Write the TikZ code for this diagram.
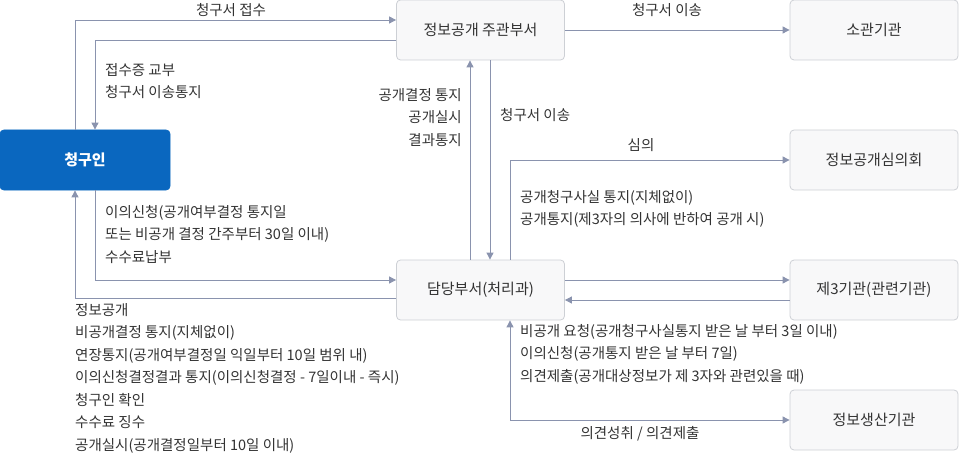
\documentclass[tikz,border=0pt]{standalone}
\usepackage{fontspec}
\setmainfont{Noto Sans CJK KR}
\usetikzlibrary{arrows.meta}
\definecolor{ln}{HTML}{8A93AE}
\definecolor{tx}{HTML}{333333}
\definecolor{bd}{HTML}{CDD0D5}
\definecolor{bf}{HTML}{F8F8F9}
\definecolor{bl}{HTML}{0A67BF}
\begin{document}
\begin{tikzpicture}[x=1pt,y=-1pt,
 box/.style={draw=bd,line width=0.8pt,fill=bf,rounded corners=4pt,minimum width=168pt,minimum height=60pt,text=tx,font=\fontsize{15}{16}\selectfont,inner sep=0},
 ar/.style={draw=ln,line width=0.9pt,-{Triangle[length=7pt,width=7pt]}},
 lb/.style={text=tx,font=\fontsize{14.5}{22.5}\selectfont,inner sep=0,align=left}]
\useasboundingbox (0,0) rectangle (960,457);
\node[box,fill=bl,draw=bl,text=white,font=\bfseries\fontsize{15}{16}\selectfont,minimum width=170pt] (c) at (85,160) {청구인};
\node[box] (m) at (480.5,30) {정보공개 주관부서};
\node[box] (s) at (874,30) {소관기관};
\node[box] (h) at (874,160) {정보공개심의회};
\node[box] (d) at (480.5,290) {담당부서(처리과)};
\node[box] (t) at (874,290) {제3기관(관련기관)};
\node[box] (p) at (874,420) {정보생산기관};
\coordinate (a1) at (75,20); \coordinate (a2) at (95,40);
\draw[ar] (c.north -| a1) -- (a1) -- (a1 -| m.west);
\draw[ar] (m.west |- a2) -- (a2) -- (a2 |- c.north);
\draw[ar] (m.east |- 0,30) -- (s.west |- 0,30);
\draw[ar] (d.north -| 470,0) -- (m.south -| 470,0);
\draw[ar] (m.south -| 490,0) -- (d.north -| 490,0);
\coordinate (b1) at (510,160);
\draw[ar] (d.north -| b1) -- (b1) -- (b1 -| h.west);
\draw[ar] (d.east |- 0,280) -- (t.west |- 0,280);
\draw[ar] (t.west |- 0,300) -- (d.east |- 0,300);
\coordinate (b2) at (510,420);
\draw[ar,{Triangle[length=7pt,width=7pt]}-{Triangle[length=7pt,width=7pt]}] (d.south -| b2) -- (b2) -- (b2 -| p.west);
\coordinate (c1) at (95,280); \coordinate (c2) at (75,298);
\draw[ar] (c.south -| c1) -- (c1) -- (c1 -| d.west);
\draw[ar] (d.west |- c2) -- (c2) -- (c2 |- c.south);
\node[lb,anchor=south] (l1) at (231,17) {청구서 접수};
\node[lb,anchor=north west] (l2) at (105,63) {접수증 교부\\청구서 이송통지};
\node[lb,anchor=south] (l3) at (667,17) {청구서 이송};
\node[lb,anchor=north east,align=right] (l4) at (462,88) {공개결정 통지\\공개실시\\결과통지};
\node[lb,anchor=north west] (l5) at (500,108) {청구서 이송};
\node[lb,anchor=south] (l6) at (641,152) {심의};
\node[lb,anchor=north west] (l7) at (520,190) {공개청구사실 통지(지체없이)\\공개통지(제3자의 의사에 반하여 공개 시)};
\node[lb,anchor=north west] (l8) at (105,205) {이의신청(공개여부결정 통지일\\또는 비공개 결정 간주부터 30일 이내)\\수수료납부};
\node[lb,anchor=north west] (l9) at (75,303) {정보공개\\비공개결정 통지(지체없이)\\연장통지(공개여부결정일 익일부터 10일 범위 내)\\이의신청결정결과 통지(이의신청결정 - 7일이내 - 즉시)\\청구인 확인\\수수료 징수\\공개실시(공개결정일부터 10일 이내)};
\node[lb,anchor=north west] (l10) at (520,324) {비공개 요청(공개청구사실통지 받은 날 부터 3일 이내)\\이의신청(공개통지 받은 날 부터 7일)\\의견제출(공개대상정보가 제 3자와 관련있을 때)};
\node[lb,anchor=north] (l11) at (640,426) {의견성취 / 의견제출};
\end{tikzpicture}
\end{document}
